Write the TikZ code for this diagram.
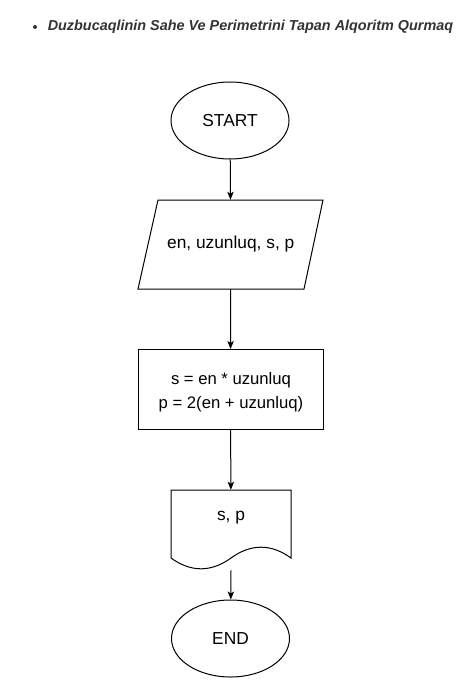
\documentclass[tikz,border=0pt]{standalone}
\usepackage{fontspec}
\setmainfont{Liberation Sans}
\usetikzlibrary{arrows.meta,shapes.geometric}
\definecolor{titlegray}{HTML}{333333}
\begin{document}
\begin{tikzpicture}[x=0.75pt,y=-0.75pt,
  every node/.style={inner sep=0pt, text=black},
  shapeline/.style={draw=black, line width=0.75pt},
  label13/.style={font=\fontsize{13}{17.5}\selectfont, align=center},
  label12/.style={font=\fontsize{12.5}{17.8}\selectfont, align=center},
  terminal/.style={shapeline, ellipse, minimum width=88.5pt, minimum height=57.75pt, label13},
  procbox/.style={shapeline, rectangle, minimum width=138.75pt, minimum height=60pt},
  ghost/.style={rectangle, label13},
  flow/.style={line width=0.75pt, -{Stealth[length=6pt,width=4.8pt,inset=1.5pt]}}
]
\useasboundingbox (0,0) rectangle (461,681);

% heading with bullet
\node[circle, fill=titlegray, minimum size=3pt] (bullet) at (35,27) {};
\node[anchor=west, font=\fontsize{10.8}{13}\selectfont\bfseries\itshape, text=titlegray] (title) at (47.5,27)
  {Duzbucaqlinin Sahe Ve Perimetrini Tapan Alqoritm Qurmaq};

% start terminal
\node[terminal] (start) at (230,120.5) {START};

% input / output parallelogram
\node[ghost, minimum width=110pt, minimum height=66.75pt] (io) at (230.75,244.5) {en, uzunluq, s, p};
\draw[shapeline] (158,200) -- (323,200) -- (304,289) -- (138,289) -- cycle;

% process box
\node[procbox] (calc) at (230.5,389.5) {};
\node[label12] (calctext) at (231,392) {s = en * uzunluq\\p = 2(en + uzunluq)};

% document (output) shape
\node[ghost, minimum width=90pt, minimum height=60pt] (doc) at (231,530) {};
\node[label13] (doctext) at (231,518) {s, p};
\draw[shapeline] (171,490) -- (291,490) -- (291,558)
  .. controls (271,543.6) and (251,543.6) .. (231,558)
  .. controls (211,572.4) and (191,572.4) .. (171,558) -- cycle;

% end terminal
\node[terminal] (end) at (230.5,638.5) {END};

% connectors
\draw[flow] (start) -- (io);
\draw[flow] (io) -- (calc);
\draw[flow] (calc) -- (doc);
\draw[flow] (doc.south) -- (end);
\end{tikzpicture}
\end{document}
